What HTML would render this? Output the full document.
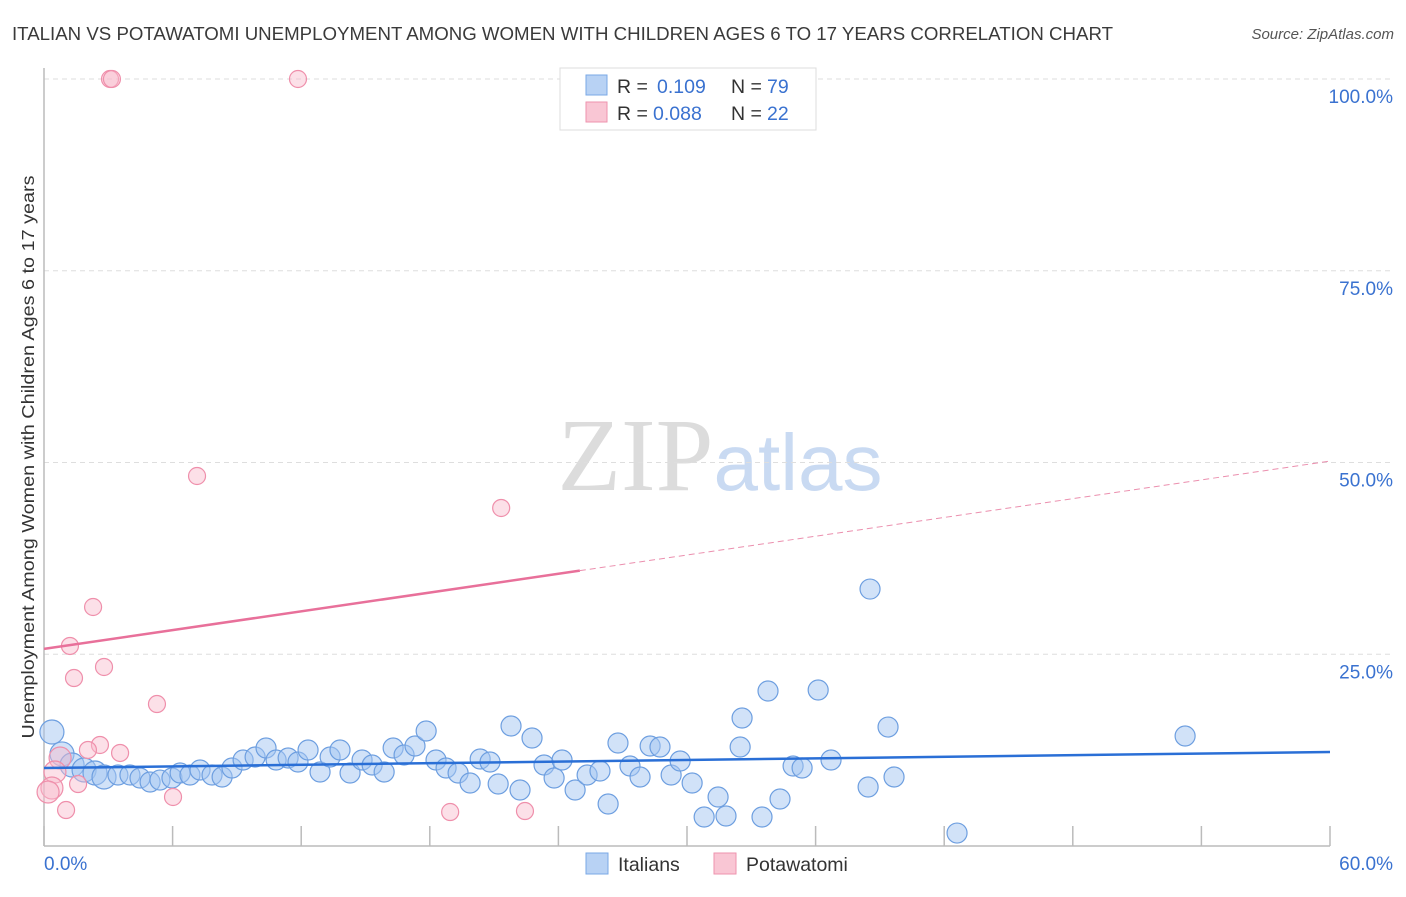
<!DOCTYPE html>
<html><head><meta charset="utf-8"><style>
body{margin:0;background:#fff;font-family:"Liberation Sans",sans-serif;}
</style></head><body>
<svg width="1406" height="892" xmlns="http://www.w3.org/2000/svg" id="chart" font-family="Liberation Sans, sans-serif">
<text x="12" y="40" font-size="18" fill="#3a3a3a" textLength="1101" lengthAdjust="spacingAndGlyphs">ITALIAN VS POTAWATOMI UNEMPLOYMENT AMONG WOMEN WITH CHILDREN AGES 6 TO 17 YEARS CORRELATION CHART</text>
<text x="1394" y="39" font-size="15" fill="#555" font-style="italic" text-anchor="end">Source: ZipAtlas.com</text>
<text x="720" y="490" font-size="104" text-anchor="middle"><tspan fill="#dcdcdc" font-family="Liberation Serif, serif">ZIP</tspan><tspan fill="#c9daf2" font-size="80">atlas</tspan></text>
<g id="grid"></g>
<g id="points"></g>
<g id="trends"></g>
<text transform="translate(34,457) rotate(-90)" font-size="17.5" fill="#333" text-anchor="middle" textLength="563" lengthAdjust="spacingAndGlyphs">Unemployment Among Women with Children Ages 6 to 17 years</text>
<g>
<rect x="560" y="68" width="256" height="62" fill="#fff" stroke="#ddd"/>
<rect x="586" y="75" width="21" height="20" fill="#b8d2f4" stroke="#7aa8e6"/>
<text x="617" y="93" font-size="19.5" fill="#333">R = <tspan fill="#3a72d0" x="657">0.109</tspan><tspan x="731" fill="#333">N = </tspan><tspan fill="#3a72d0" x="767">79</tspan></text>
<rect x="586" y="102" width="21" height="20" fill="#f9c6d4" stroke="#ee93ae"/>
<text x="617" y="120" font-size="19.5" fill="#333">R = <tspan fill="#3a72d0" x="653">0.088</tspan><tspan x="731" fill="#333">N = </tspan><tspan fill="#3a72d0" x="767">22</tspan></text>
</g>
<g>
<rect x="586" y="853" width="22" height="21" fill="#b8d2f4" stroke="#7aa8e6"/>
<text x="618" y="871" font-size="19.5" fill="#333">Italians</text>
<rect x="714" y="853" width="22" height="21" fill="#f9c6d4" stroke="#ee93ae"/>
<text x="746" y="871" font-size="19.5" fill="#333">Potawatomi</text>
</g>
</svg>
<script>
const xTicks=[0,6,12,18,24,30,36,42,48,54,60];
const yTicks=[25,50,75,100];
const blueX=[0.37,0.84,1.31,1.87,2.38,2.80,3.45,4.01,4.48,4.95,5.41,5.97,6.35,6.81,7.28,7.84,8.31,8.77,9.29,9.85,10.36,10.83,11.39,11.85,12.32,12.88,13.35,13.81,14.28,14.84,15.31,15.87,16.29,16.80,17.31,17.83,18.29,18.76,19.32,19.88,20.35,20.81,21.19,21.79,22.21,22.77,23.33,23.80,24.17,24.78,25.34,25.94,26.32,26.78,27.34,27.81,28.28,28.74,29.26,29.68,30.24,30.80,31.45,31.82,32.48,32.57,33.50,33.78,34.34,34.95,35.37,36.12,36.72,38.45,38.54,39.38,39.66,42.60,53.24];
const blueY=[14.86,12.0,10.56,9.91,9.52,9.0,9.26,9.26,8.87,8.34,8.6,8.87,9.52,9.26,9.91,9.26,9.0,10.17,11.21,11.6,12.78,11.21,11.47,10.95,12.52,9.65,11.6,12.52,9.52,11.21,10.56,9.65,12.78,11.86,13.04,14.99,11.21,10.17,9.52,8.21,11.34,10.95,8.08,15.65,7.3,14.08,10.56,8.87,11.21,7.3,9.26,9.78,5.48,13.43,10.43,9.0,13.04,12.91,9.26,11.08,8.21,3.78,6.39,3.91,12.91,16.69,3.78,20.21,6.13,10.43,10.17,20.34,11.21,7.69,33.5,15.51,9.0,1.69,14.34];
const pinkX=[3.08,3.17,11.85,7.14,21.33,2.29,1.21,1.40,2.80,5.27,3.55,2.61,2.05,0.75,0.51,0.37,0.19,1.59,1.03,6.02,18.95,22.44];
const pinkY=[100,100,100,48.24,44.07,31.16,26.08,21.9,23.34,18.51,12.13,13.17,12.52,11.47,9.65,7.56,7.04,8.08,4.69,6.39,4.43,4.56];
const blueTrend=[10.17,0.0348];
const pinkTrend=[25.7,0.408];
const NS='http://www.w3.org/2000/svg';
const X=v=>44+v/60*1286;
const Y=v=>846-v/100*767;
function mk(tag,attrs,parent){const e=document.createElementNS(NS,tag);for(const k in attrs)e.setAttribute(k,attrs[k]);parent.appendChild(e);return e;}
const grid=document.getElementById('grid');
yTicks.forEach(t=>{
 const l=mk('line',{x1:44,x2:1394,y1:Y(t),y2:Y(t),stroke:'#dedede','stroke-dasharray':'5,4'},grid);
 
 
 const tx=mk('text',{x:1393,y:Y(t)+24,'font-size':19,fill:'#3a72d0','text-anchor':'end'},grid);
 tx.textContent=t.toFixed(1)+'%';
 
 
});
const ax=mk('line',{x1:44,x2:1330,y1:846,y2:846,stroke:'#bbb','stroke-width':1.5},grid);


const ay=mk('line',{x1:44,x2:44,y1:68,y2:846,stroke:'#bbb','stroke-width':1.5},grid);


xTicks.forEach(t=>{
 const l=mk('line',{x1:X(t),x2:X(t),y1:826,y2:846,stroke:'#bbb','stroke-width':1.5},grid);
 
 
});
[[0,'start'],[60,'end']].forEach(([t,a])=>{
 const tx=mk('text',{x:t==0?44:1393,y:870,'font-size':19,fill:'#3a72d0','text-anchor':a},grid);
 tx.textContent=t.toFixed(1)+'%';
 
 
});
const pts=document.getElementById('points');
blueX.forEach((v,i)=>{
 const c=mk('circle',{cx:X(v),cy:Y(blueY[i]),r:v<3?12:10,fill:'rgba(164,198,242,0.5)',stroke:'#6e9fe0','stroke-width':1.2},pts);
 
 
});
pinkX.forEach((v,i)=>{
 const c=mk('circle',{cx:X(v),cy:Y(pinkY[i]),r:v<1?11:8.5,fill:'rgba(248,186,204,0.45)',stroke:'#ef8fab','stroke-width':1.2},pts);
 
 
});
const tr=document.getElementById('trends');
const b=mk('line',{x1:X(0),y1:Y(blueTrend[0]),x2:X(60),y2:Y(blueTrend[0]+blueTrend[1]*60),stroke:'#2a6fd6','stroke-width':2.5},tr);


const p1=mk('line',{x1:X(0),y1:Y(pinkTrend[0]),x2:X(25),y2:Y(pinkTrend[0]+pinkTrend[1]*25),stroke:'#e8709a','stroke-width':2.5},tr);


const p2=mk('line',{x1:X(25),y1:Y(pinkTrend[0]+pinkTrend[1]*25),x2:X(60),y2:Y(pinkTrend[0]+pinkTrend[1]*60),stroke:'#eb8fae','stroke-width':1,'stroke-dasharray':'6,4'},tr);


</script>
</body></html>
